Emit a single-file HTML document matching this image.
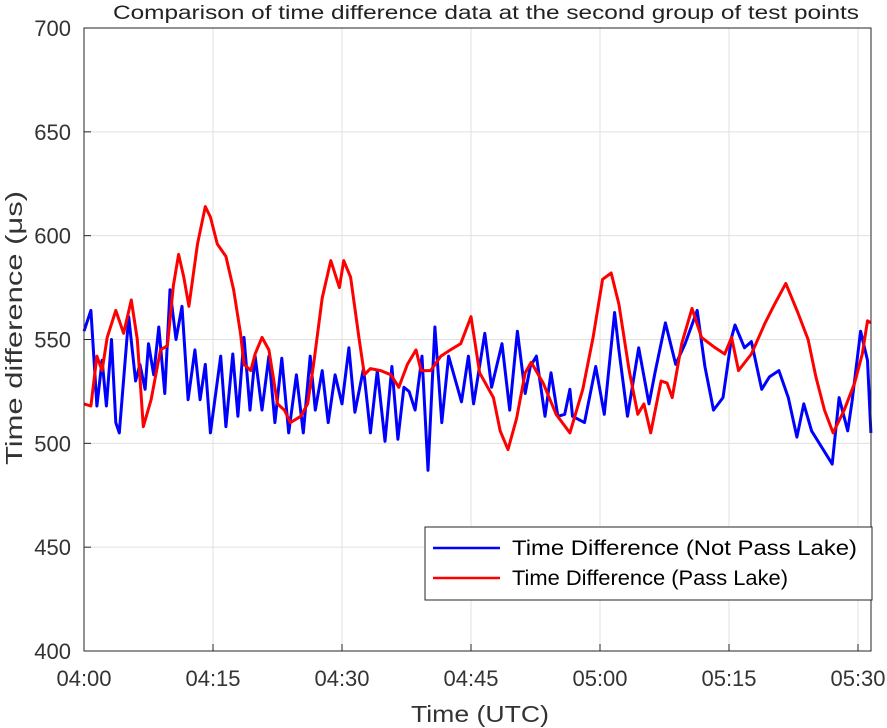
<!DOCTYPE html>
<html><head><meta charset="utf-8"><style>
body{margin:0;background:#fff;}
svg{display:block;font-family:"Liberation Sans",Arial,sans-serif;}
</style></head><body>
<svg id="chart" width="887" height="728" xmlns="http://www.w3.org/2000/svg">
<text x="486" y="19" text-anchor="middle" font-size="19" textLength="746" lengthAdjust="spacingAndGlyphs" fill="#222">Comparison of time difference data at the second group of test points</text>
<g id="grid"></g>
<g id="series"></g>
<rect x="84" y="28" width="787" height="623" fill="none" stroke="#262626" stroke-width="1"/>
<g id="ticks"></g>
<text x="480" y="722" text-anchor="middle" font-size="23" textLength="138" lengthAdjust="spacingAndGlyphs" fill="#333">Time (UTC)</text>
<text transform="translate(22,328) rotate(-90)" text-anchor="middle" font-size="23" textLength="274" lengthAdjust="spacingAndGlyphs" fill="#333">Time difference  (μs)</text>
<g>
<rect x="425" y="527" width="447" height="73" fill="#fff" stroke="#262626" stroke-width="1"/>
<line x1="433" y1="548" x2="500" y2="548" stroke="#0000ff" stroke-width="2.5"/>
<text x="512" y="555" font-size="21" textLength="345" lengthAdjust="spacingAndGlyphs" fill="#000">Time Difference (Not Pass Lake)</text>
<line x1="433" y1="578" x2="500" y2="578" stroke="#ff0000" stroke-width="2.5"/>
<text x="512" y="585" font-size="21" textLength="276" lengthAdjust="spacingAndGlyphs" fill="#000">Time Difference (Pass Lake)</text>
</g>
</svg>
<script>
const yTicks=[400,450,500,550,600,650,700];
const xTickMinutes=[0,15,30,45,60,75,90];
const xTickLabels=["04:00","04:15","04:30","04:45","05:00","05:15","05:30"];
const blueMin=[0,0.8,1.5,2.1,2.6,3.2,3.7,4.1,5.2,6,6.5,7.1,7.5,8.1,8.7,9.4,10,10.7,11.4,12.1,12.9,13.5,14.1,14.7,15.9,16.5,17.3,17.9,18.6,19.3,19.9,20.7,21.5,22.2,23,23.8,24.7,25.5,26.3,26.9,27.7,28.4,29.2,30,30.8,31.5,32.5,33.3,34.1,35,35.8,36.5,37.2,37.8,38.5,39.3,40,40.8,41.6,42.4,43.9,44.7,45.3,46.6,47.4,48.6,49.5,50.4,51.3,51.9,52.6,53.6,54.3,55.1,55.9,56.5,56.8,58.2,59.5,60.5,61.7,62.2,63.2,64.5,65.7,66.4,67.6,68.8,69.9,71.3,72.2,73.2,74.3,75.3,75.7,76.8,77.6,78.8,79.7,80.8,81.9,82.9,83.7,84.6,85.8,87,87.8,88.8,89.3,90.3,91.1,91.5];
const blueVal=[554,564,518,540,518,550,510,505,561,530,538,526,548,533,556,524,574,550,566,521,545,521,538,505,542,508,543,513,551,516,542,516,542,510,541,505,533,505,542,516,535,510,533,519,546,515,536,505,535,501,537,502,527,525,516,542,487,556,510,542,520,542,519,553,527,548,516,554,524,537,542,513,534,513,514,526,513,510,537,514,563,545,513,546,519,534,558,538,548,564,537,516,522,551,557,546,549,526,532,535,522,503,519,506,498,490,522,506,520,554,540,505];
const redMin=[0,0.8,1.5,2.1,2.7,3.7,4.6,5.5,6.2,6.9,7.8,8.9,9.7,10.4,11,11.6,12.2,13.2,14.1,14.7,15.5,16.5,17.4,18.2,18.6,19.4,19.9,20.7,21.5,22.5,23.3,24,25.2,26,26.7,27.7,28.7,29.7,30.2,31,32,32.6,33.3,34.5,35.7,36.6,37.6,38.6,39.2,40.3,41.5,42.6,43.8,45,46,47.6,48.4,49.3,50.3,51.3,52,53.4,54.9,56.5,58,59.2,60.3,61.3,62.2,63.4,64.4,65.1,65.9,67.1,67.8,68.4,69.5,70.7,71.8,73.4,74.5,75.3,76.1,77.6,79.2,80.3,81.6,83,84.2,85.1,86.1,87.1,88.4,89.6,90.5,91.1,91.5];
const redVal=[519,518,542,535,551,564,553,569,550,508,521,545,547,576,591,580,566,596,614,609,596,590,574,553,538,535,543,551,545,519,516,510,513,519,538,570,588,575,588,580,550,533,536,535,533,527,538,545,535,535,542,545,548,561,534,522,506,497,512,534,539,529,514,505,526,551,579,582,567,535,514,519,505,530,529,522,548,565,551,546,543,551,535,543,558,567,577,563,550,532,516,505,516,529,543,559,558];
const NS="http://www.w3.org/2000/svg";
const L=84,R=871,T=28,B=651;
function xs(m){return L+m*8.6;}
function ys(v){return B-(v-400)*(B-T)/300;}
const grid=document.getElementById('grid'),ticks=document.getElementById('ticks'),series=document.getElementById('series');
function mk(tag,attrs,parent){const e=document.createElementNS(NS,tag);for(const k in attrs)e.setAttribute(k,attrs[k]);parent.appendChild(e);return e;}
yTicks.forEach(v=>{
  const g=mk('line',{x1:L,x2:R,y1:ys(v),y2:ys(v),stroke:'#e0e0e0','stroke-width':1},grid);
  
  
  const t=mk('line',{x1:L,x2:L+7,y1:ys(v),y2:ys(v),stroke:'#262626'},ticks);
  
  
  const lb=mk('text',{x:71,y:ys(v)+8,'text-anchor':'end','font-size':22,fill:'#333'},ticks);
  lb.textContent=v;
  
  
});
xTickMinutes.forEach((m,i)=>{
  const g=mk('line',{x1:xs(m),x2:xs(m),y1:T,y2:B,stroke:'#e0e0e0','stroke-width':1},grid);
  
  
  const t=mk('line',{x1:xs(m),x2:xs(m),y1:B,y2:B-7,stroke:'#262626'},ticks);
  
  
  const lb=mk('text',{x:xs(m),y:686,'text-anchor':'middle','font-size':22,fill:'#333'},ticks);
  lb.textContent=xTickLabels[i];
  
  
});
function line(ms,vs,color,name){
  const d=ms.map((m,i)=>(i?'L':'M')+xs(m).toFixed(1)+','+ys(vs[i]).toFixed(1)).join(' ');
  const p=mk('path',{d:d,fill:'none',stroke:color,'stroke-width':3,'stroke-linejoin':'round'},series);
  
  
}
line(blueMin,blueVal,'#0000ff','series-not-pass-lake');
line(redMin,redVal,'#ff0000','series-pass-lake');
</script>
</body></html>
